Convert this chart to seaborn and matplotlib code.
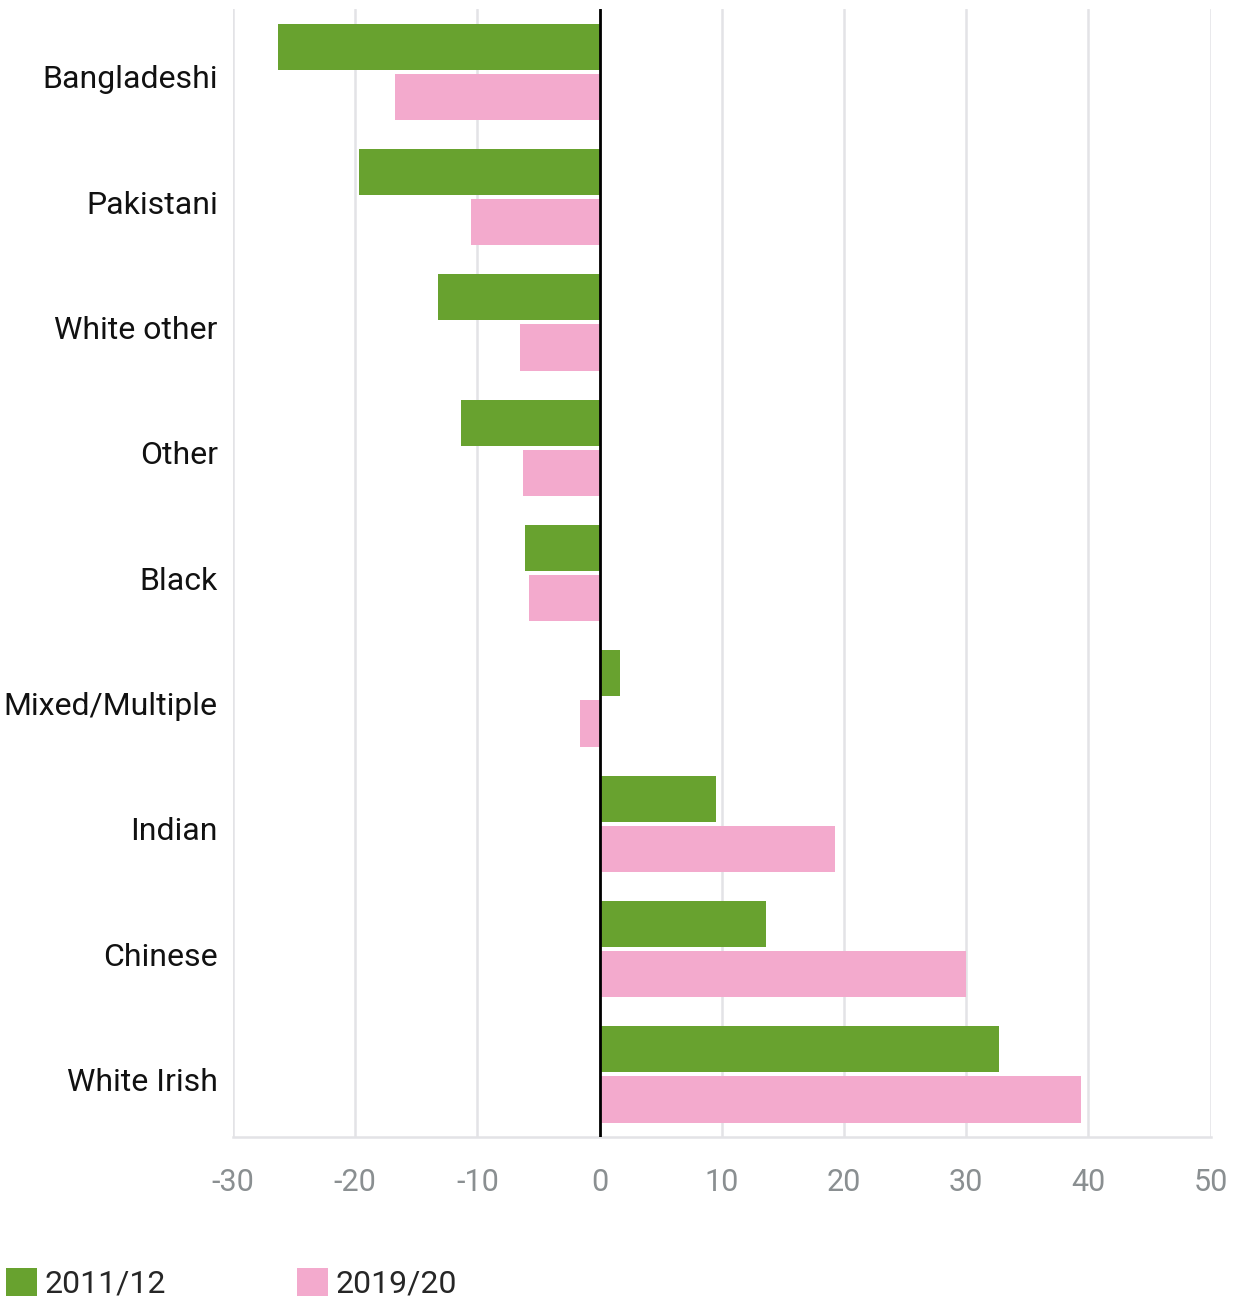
import matplotlib
matplotlib.use("Agg")
import matplotlib.pyplot as plt
import matplotlib.transforms as mtransforms
import seaborn as sns
import pandas as pd

# data
groups = ["Bangladeshi", "Pakistani", "White other", "Other", "Black",
          "Mixed/Multiple", "Indian", "Chinese", "White Irish"]
vals_2011 = [-26.3, -19.7, -13.2, -11.3, -6.1, 1.7, 9.5, 13.6, 32.7]
vals_2019 = [-16.7, -10.5, -6.5, -6.3, -5.8, -1.6, 19.3, 30.0, 39.4]
years = ["2011/12", "2019/20"]
colors = ["#68A22F", "#F3AACD"]

df = pd.DataFrame({
    "group": groups * 2,
    "value": vals_2011 + vals_2019,
    "year": [years[0]] * len(groups) + [years[1]] * len(groups),
})

sns.set_theme(style="white")
plt.rcParams["font.family"] = ["Roboto", "DejaVu Sans"]
plt.rcParams["axes.unicode_minus"] = False

fig = plt.figure(figsize=(12.39, 13.01), dpi=100)
ax = fig.add_axes([0.188, 0.126, 0.789, 0.867])

sns.barplot(data=df, x="value", y="group", hue="year", order=groups,
            hue_order=years, palette=colors, orient="h", width=0.8, gap=0.08,
            saturation=1, linewidth=0, ax=ax, legend=True)

ax.set_xlim(-30, 50)
ax.set_xticks(range(-30, 51, 10))
ax.xaxis.grid(True, color="#e3e3e6", linewidth=1.8)
ax.set_axisbelow(True)
ax.axvline(0, color="black", linewidth=2, zorder=5)

for s in ["top", "right", "left"]:
    ax.spines[s].set_visible(False)
ax.spines["bottom"].set_color("#e3e3e6")
ax.spines["bottom"].set_linewidth(1.8)

ax.set_xlabel("")
ax.set_ylabel("")
ax.tick_params(axis="x", length=0, pad=22, labelsize=22, labelcolor="#8a8f91")
ax.tick_params(axis="y", length=0, pad=11, labelsize=23, labelcolor="#111111")

# category labels sit a little below the group centre in the original
shift = mtransforms.ScaledTranslation(0, -5 / 100, fig.dpi_scale_trans)
for lab in ax.get_yticklabels():
    lab.set_transform(lab.get_transform() + shift)

handles, labels = ax.get_legend_handles_labels()
ax.get_legend().remove()
fig.legend(handles, labels, loc="lower left", bbox_to_anchor=(-0.0187, -0.0205),
           ncol=2, frameon=False, fontsize=23, handlelength=0.97,
           handleheight=0.97, handletextpad=0.25, columnspacing=4.1)

fig.savefig("out.png", dpi=100)
